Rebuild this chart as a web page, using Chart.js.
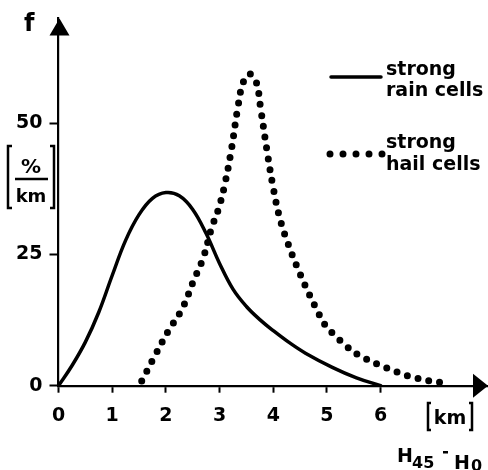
<!DOCTYPE html>
<html>
<head>
<meta charset="utf-8">
<script src="https://cdn.jsdelivr.net/npm/chart.js@4.4.0/dist/chart.umd.min.js"></script>
<style>
  body { margin: 0; background: #fff; }
  #wrap { position: relative; width: 488px; height: 470px; }
</style>
</head>
<body>
<div id="wrap"><canvas id="freqChart"></canvas></div>
<script>
// values (x = H45 - H0 in km, f in %/km)
const rainKm = [0, 0.25, 0.5, 0.75, 1.0, 1.25, 1.5, 1.75, 2.0, 2.25, 2.5, 2.75, 3.0, 3.25, 3.5, 3.75, 4.0, 4.3, 4.6, 5.1, 5.55, 6.0];
const rainF = [0, 3.8, 8.3, 14.0, 21.0, 27.7, 32.6, 35.7, 36.8, 36.2, 33.6, 29.0, 23.3, 18.4, 15.1, 12.6, 10.5, 8.2, 6.2, 3.5, 1.5, 0];

const hailKm = [1.55, 1.8, 2.05, 2.3, 2.52, 2.7, 2.85, 2.98, 3.1, 3.22, 3.34, 3.44, 3.56, 3.68, 3.77, 3.88, 4.0, 4.12, 4.26, 4.45, 4.63, 4.8, 4.97, 5.16, 5.35, 5.6, 5.94, 6.31, 6.6, 6.93, 7.12];
const hailF = [0.9, 5.8, 10.5, 14.6, 20.1, 24.5, 30.0, 33.7, 38.5, 45.0, 53.0, 57.8, 59.4, 58.0, 52.5, 45.0, 37.7, 32.0, 27.5, 22.5, 18.3, 14.7, 11.5, 9.5, 7.6, 5.8, 4.1, 2.6, 1.6, 0.9, 0.6];

const xTicks = [0, 1, 2, 3, 4, 5, 6];
const yTicks = [0, 25, 50];
const seriesNames = [['strong', 'rain cells'], ['strong', 'hail cells']];

const FONT = '"DejaVu Sans", Verdana, sans-serif';

function toPoints(xs, ys) {
  return xs.map((x, i) => ({ x: x, y: ys[i] }));
}

// arrows, axis captions and the legend
const decorations = {
  id: 'decorations',
  afterDraw(chart) {
    const ctx = chart.ctx;
    const area = chart.chartArea;
    ctx.save();
    ctx.fillStyle = '#000';
    ctx.strokeStyle = '#000';

    // y arrow
    ctx.beginPath();
    ctx.moveTo(area.left + 1, area.top);
    ctx.lineTo(area.left + 11, area.top + 17);
    ctx.lineTo(area.left - 9, area.top + 17);
    ctx.closePath();
    ctx.fill();
    // x arrow
    ctx.beginPath();
    ctx.moveTo(area.right, area.bottom);
    ctx.lineTo(area.right - 15, area.bottom - 12);
    ctx.lineTo(area.right - 15, area.bottom + 12);
    ctx.closePath();
    ctx.fill();

    ctx.textBaseline = 'alphabetic';
    ctx.textAlign = 'left';

    // f
    ctx.font = 'bold 24px ' + FONT;
    ctx.fillText('f', 24, 31);

    // [%/km]
    ctx.lineWidth = 2.5;
    ctx.beginPath();
    ctx.moveTo(12, 146); ctx.lineTo(8, 146); ctx.lineTo(8, 208); ctx.lineTo(12, 208);
    ctx.moveTo(50, 146); ctx.lineTo(54, 146); ctx.lineTo(54, 208); ctx.lineTo(50, 208);
    ctx.moveTo(15, 179); ctx.lineTo(48, 179);
    ctx.stroke();
    ctx.textAlign = 'center';
    ctx.font = 'bold 20px ' + FONT;
    ctx.fillText('%', 31, 173);
    ctx.font = 'bold 18px ' + FONT;
    ctx.fillText('km', 31, 202);

    // [km] on the x axis
    ctx.beginPath();
    ctx.moveTo(431, 403); ctx.lineTo(428, 403); ctx.lineTo(428, 430); ctx.lineTo(431, 430);
    ctx.moveTo(469, 403); ctx.lineTo(472, 403); ctx.lineTo(472, 430); ctx.lineTo(469, 430);
    ctx.stroke();
    ctx.font = 'bold 19px ' + FONT;
    ctx.fillText('km', 450, 424);

    // H45 - H0
    ctx.textAlign = 'left';
    ctx.font = 'bold 19px ' + FONT;
    ctx.fillText('H', 397, 462);
    ctx.fillText('H', 454, 469);
    ctx.font = 'bold 16px ' + FONT;
    ctx.fillText('45', 412, 468);
    ctx.fillText('0', 471, 471);
    ctx.fillRect(443, 451, 5, 2.5);

    // legend
    const ds = chart.data.datasets;
    ctx.lineCap = 'round';
    ctx.lineWidth = ds[0].borderWidth;
    ctx.setLineDash([]);
    ctx.beginPath();
    ctx.moveTo(331, 77); ctx.lineTo(381, 77);
    ctx.stroke();
    ctx.lineWidth = ds[1].borderWidth;
    ctx.setLineDash([0, 13]);
    ctx.beginPath();
    ctx.moveTo(330, 154); ctx.lineTo(383, 154);
    ctx.stroke();
    ctx.setLineDash([]);
    ctx.font = 'bold 19px ' + FONT;
    ctx.fillText(seriesNames[0][0], 386, 75);
    ctx.fillText(seriesNames[0][1], 386, 96);
    ctx.fillText(seriesNames[1][0], 386, 148);
    ctx.fillText(seriesNames[1][1], 386, 170);
    ctx.restore();
  }
};

const ctx = document.getElementById('freqChart').getContext('2d');
new Chart(ctx, {
  type: 'line',
  data: {
    datasets: [
      {
        label: seriesNames[0].join(' '),
        data: toPoints(rainKm, rainF),
        borderColor: '#000',
        borderWidth: 3.5,
        pointRadius: 0,
        tension: 0.4,
        borderCapStyle: 'round',
      },
      {
        label: seriesNames[1].join(' '),
        data: toPoints(hailKm, hailF),
        borderColor: '#000',
        borderWidth: 7,
        borderDash: [0, 11],
        borderCapStyle: 'round',
        pointRadius: 0,
        tension: 0.4,
      },
    ],
  },
  options: {
    responsive: true,
    maintainAspectRatio: false,
    animation: false,
    layout: { padding: { top: 8, right: 0, left: 0, bottom: 0 } },
    plugins: { legend: { display: false }, tooltip: { enabled: false } },
    scales: {
      x: {
        type: 'linear',
        min: 0,
        max: 8,
        afterBuildTicks: (scale) => { scale.ticks = xTicks.map((v) => ({ value: v })); },
        afterFit: (scale) => { scale.height = 84.3; },
        grid: { drawOnChartArea: false, drawTicks: true, tickLength: 7, tickWidth: 2, color: '#000' },
        border: { display: true, color: '#000', width: 2.2 },
        ticks: { color: '#000', padding: 12, maxRotation: 0, font: { family: FONT, size: 19, weight: 'bold' } },
      },
      y: {
        type: 'linear',
        min: 0,
        max: 70,
        afterBuildTicks: (scale) => { scale.ticks = yTicks.map((v) => ({ value: v })); },
        afterFit: (scale) => { scale.width = 58.5; },
        grid: { drawOnChartArea: false, drawTicks: true, tickLength: 9, tickWidth: 2, color: '#000' },
        border: { display: true, color: '#000', width: 2.2 },
        ticks: { color: '#000', padding: 7, font: { family: FONT, size: 19, weight: 'bold' } },
      },
    },
  },
  plugins: [decorations],
});
</script>
</body>
</html>
